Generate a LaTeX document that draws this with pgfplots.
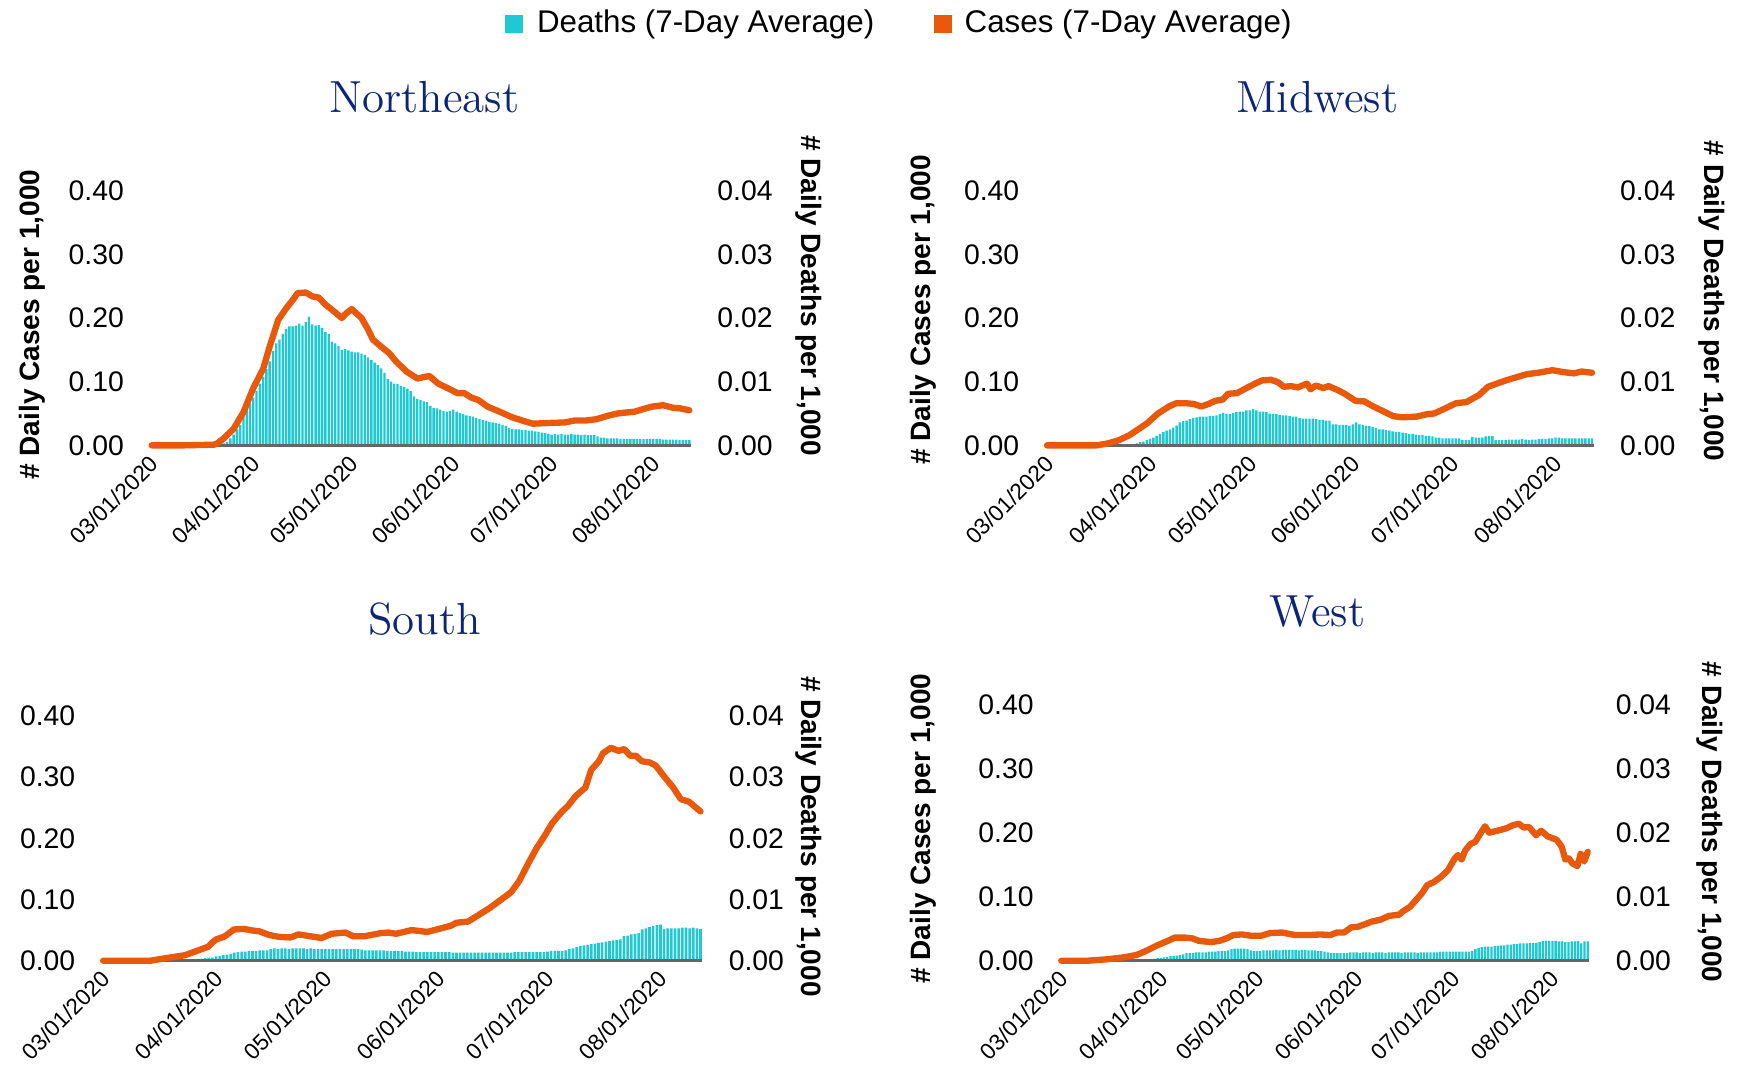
\documentclass[border=0pt]{standalone}
\usepackage{pgfplots}
\pgfplotsset{compat=1.18}
\usepackage{pgfplotstable}
\usepackage{fontspec}
\setsansfont{Liberation Sans}
\definecolor{teal1}{HTML}{1EC9D3}
\definecolor{orng}{HTML}{E8590C}
\definecolor{navy}{HTML}{0C2577}
\definecolor{basegray}{HTML}{666666}

% Daily deaths (7-day average) per 1,000, day 0 = 03/01/2020
\pgfplotstableread[header=false,row sep=\\]{
0\\0\\0\\0\\0\\0\\0\\0\\0\\0\\
0\\0\\0\\0\\0\\0\\0\\0\\0\\0\\
0\\0.0001\\0.0003\\0.0005\\0.0011\\0.0017\\0.0025\\0.0032\\0.0045\\0.0058\\
0.0066\\0.0075\\0.0086\\0.0097\\0.0108\\0.0120\\0.0132\\0.0148\\0.0160\\0.0166\\
0.0175\\0.0183\\0.0187\\0.0187\\0.0188\\0.0191\\0.0188\\0.0194\\0.0202\\0.0190\\
0.0188\\0.0189\\0.0184\\0.0178\\0.0175\\0.0163\\0.0160\\0.0156\\0.0150\\0.0151\\
0.0149\\0.0147\\0.0146\\0.0146\\0.0144\\0.0142\\0.0138\\0.0134\\0.0130\\0.0126\\
0.0121\\0.0114\\0.0104\\0.0100\\0.0097\\0.0096\\0.0093\\0.0092\\0.0089\\0.0085\\
0.0077\\0.0073\\0.0071\\0.0069\\0.0068\\0.0062\\0.0059\\0.0058\\0.0056\\0.0054\\
0.0053\\0.0054\\0.0056\\0.0053\\0.0051\\0.0049\\0.0047\\0.0046\\0.0045\\0.0043\\
0.0041\\0.0040\\0.0039\\0.0037\\0.0036\\0.0035\\0.0034\\0.0032\\0.0030\\0.0027\\
0.0026\\0.0025\\0.0025\\0.0024\\0.0024\\0.0023\\0.0023\\0.0022\\0.0021\\0.0020\\
0.0019\\0.0018\\0.0017\\0.0018\\0.0017\\0.0018\\0.0017\\0.0017\\0.0018\\0.0017\\
0.0017\\0.0016\\0.0017\\0.0016\\0.0016\\0.0016\\0.0014\\0.0012\\0.0012\\0.0011\\
0.0011\\0.0011\\0.0011\\0.0010\\0.0010\\0.0010\\0.0010\\0.0010\\0.0010\\0.0010\\
0.0010\\0.0010\\0.0010\\0.0010\\0.0010\\0.0010\\0.0009\\0.0009\\0.0009\\0.0009\\
0.0009\\0.0008\\0.0008\\0.0008\\0.0008\\
}\neD

\pgfplotstableread[header=false,row sep=\\]{
0\\0\\0\\0\\0\\0\\0\\0\\0\\0\\
0\\0\\0\\0\\0\\0\\0\\0\\0\\0\\
0\\0\\0\\0\\0\\0.0001\\0.0002\\0.0003\\0.0005\\0.0006\\
0.0008\\0.0010\\0.0012\\0.0015\\0.0018\\0.0021\\0.0023\\0.0025\\0.0028\\0.0031\\
0.0036\\0.0038\\0.0039\\0.0041\\0.0043\\0.0044\\0.0045\\0.0045\\0.0045\\0.0046\\
0.0046\\0.0047\\0.0049\\0.0051\\0.0050\\0.0049\\0.0051\\0.0052\\0.0053\\0.0053\\
0.0055\\0.0055\\0.0057\\0.0055\\0.0053\\0.0053\\0.0052\\0.0050\\0.0049\\0.0049\\
0.0048\\0.0047\\0.0047\\0.0046\\0.0045\\0.0045\\0.0043\\0.0042\\0.0042\\0.0042\\
0.0042\\0.0041\\0.0040\\0.0040\\0.0039\\0.0039\\0.0033\\0.0033\\0.0032\\0.0032\\
0.0032\\0.0031\\0.0033\\0.0036\\0.0033\\0.0032\\0.0031\\0.0030\\0.0029\\0.0027\\
0.0025\\0.0025\\0.0024\\0.0023\\0.0022\\0.0021\\0.0021\\0.0020\\0.0019\\0.0018\\
0.0018\\0.0017\\0.0016\\0.0016\\0.0015\\0.0015\\0.0014\\0.0012\\0.0012\\0.0011\\
0.0011\\0.0011\\0.0011\\0.0011\\0.0011\\0.0008\\0.0008\\0.0008\\0.0013\\0.0012\\
0.0012\\0.0012\\0.0014\\0.0015\\0.0015\\0.0008\\0.0008\\0.0008\\0.0008\\0.0009\\
0.0009\\0.0009\\0.0009\\0.0010\\0.0009\\0.0008\\0.0009\\0.0009\\0.0010\\0.0010\\
0.0010\\0.0011\\0.0011\\0.0012\\0.0012\\0.0011\\0.0011\\0.0011\\0.0011\\0.0011\\
0.0011\\0.0011\\0.0011\\0.0011\\0.0011\\
}\mwD

\pgfplotstableread[header=false,row sep=\\]{
0\\0\\0\\0\\0\\0\\0\\0\\0\\0\\
0\\0\\0\\0\\0\\0\\0\\0\\0\\0\\
0\\0\\0\\0.0001\\0.0001\\0.0002\\0.0002\\0.0003\\0.0004\\0.0005\\
0.0005\\0.0007\\0.0008\\0.0009\\0.0010\\0.0011\\0.0013\\0.0014\\0.0015\\0.0015\\
0.0016\\0.0016\\0.0016\\0.0017\\0.0017\\0.0017\\0.0019\\0.0020\\0.0019\\0.0020\\
0.0020\\0.0019\\0.0020\\0.0020\\0.0020\\0.0020\\0.0019\\0.0020\\0.0019\\0.0019\\
0.0019\\0.0019\\0.0019\\0.0019\\0.0019\\0.0019\\0.0019\\0.0019\\0.0019\\0.0019\\
0.0019\\0.0018\\0.0017\\0.0017\\0.0017\\0.0017\\0.0017\\0.0017\\0.0016\\0.0016\\
0.0016\\0.0016\\0.0016\\0.0015\\0.0015\\0.0015\\0.0014\\0.0014\\0.0014\\0.0014\\
0.0014\\0.0014\\0.0014\\0.0014\\0.0014\\0.0014\\0.0013\\0.0013\\0.0013\\0.0013\\
0.0013\\0.0013\\0.0013\\0.0013\\0.0013\\0.0013\\0.0013\\0.0013\\0.0013\\0.0013\\
0.0013\\0.0013\\0.0013\\0.0014\\0.0014\\0.0014\\0.0014\\0.0014\\0.0014\\0.0014\\
0.0014\\0.0014\\0.0015\\0.0016\\0.0016\\0.0016\\0.0016\\0.0017\\0.0019\\0.0020\\
0.0022\\0.0024\\0.0025\\0.0026\\0.0027\\0.0028\\0.0029\\0.0030\\0.0031\\0.0032\\
0.0033\\0.0034\\0.0035\\0.0040\\0.0041\\0.0043\\0.0044\\0.0045\\0.0051\\0.0053\\
0.0055\\0.0057\\0.0058\\0.0059\\0.0052\\0.0053\\0.0053\\0.0053\\0.0053\\0.0054\\
0.0054\\0.0053\\0.0054\\0.0053\\0.0052\\
}\soD

\pgfplotstableread[header=false,row sep=\\]{
0\\0\\0\\0\\0\\0\\0\\0\\0\\0\\
0\\0\\0\\0\\0\\0\\0\\0\\0\\0\\
0\\0\\0\\0.0001\\0.0001\\0.0001\\0.0002\\0.0002\\0.0003\\0.0003\\
0.0004\\0.0004\\0.0005\\0.0006\\0.0007\\0.0007\\0.0008\\0.0009\\0.0010\\0.0012\\
0.0012\\0.0012\\0.0013\\0.0013\\0.0013\\0.0013\\0.0014\\0.0014\\0.0014\\0.0015\\
0.0015\\0.0015\\0.0016\\0.0018\\0.0019\\0.0019\\0.0019\\0.0019\\0.0018\\0.0016\\
0.0015\\0.0015\\0.0015\\0.0016\\0.0016\\0.0016\\0.0016\\0.0017\\0.0016\\0.0017\\
0.0017\\0.0017\\0.0017\\0.0017\\0.0016\\0.0017\\0.0017\\0.0016\\0.0016\\0.0016\\
0.0015\\0.0015\\0.0014\\0.0013\\0.0012\\0.0012\\0.0012\\0.0012\\0.0012\\0.0012\\
0.0013\\0.0013\\0.0013\\0.0012\\0.0013\\0.0013\\0.0013\\0.0012\\0.0013\\0.0013\\
0.0013\\0.0012\\0.0013\\0.0013\\0.0013\\0.0013\\0.0012\\0.0013\\0.0013\\0.0013\\
0.0013\\0.0012\\0.0013\\0.0013\\0.0013\\0.0013\\0.0013\\0.0013\\0.0014\\0.0014\\
0.0014\\0.0014\\0.0014\\0.0014\\0.0014\\0.0014\\0.0014\\0.0014\\0.0015\\0.0018\\
0.0020\\0.0021\\0.0022\\0.0022\\0.0022\\0.0023\\0.0023\\0.0024\\0.0024\\0.0025\\
0.0025\\0.0026\\0.0026\\0.0027\\0.0027\\0.0027\\0.0028\\0.0028\\0.0028\\0.0029\\
0.0031\\0.0031\\0.0031\\0.0031\\0.0031\\0.0030\\0.0030\\0.0029\\0.0029\\0.0030\\
0.0030\\0.0031\\0.0027\\0.0030\\0.0030\\
}\weD

\pgfplotsset{
  common/.style={
    scale only axis, anchor=south west, xmin=-0.5, xmax=164.5,
    axis line style={draw=none}, tick style={draw=none}, clip=false,
    scaled y ticks=false,
    yticklabel style={font=\fontsize{8.5}{10}\selectfont\sffamily,
      /pgf/number format/fixed, /pgf/number format/fixed zerofill,
      /pgf/number format/precision=2, /pgf/number format/assume math mode=true},
  },
  deathax/.style={common, ymin=0, ymax=0.04,
    axis y line*=right, axis x line*=bottom, xtick=\empty,
    ytick={0,0.01,0.02,0.03,0.04},
    yticklabel style={xshift=4.4pt}},
  casesax/.style={common, ymin=0, ymax=0.40,
    axis y line*=left, axis x line*=bottom,
    ytick={0,0.1,0.2,0.3,0.4},
    yticklabel style={xshift=-4.3pt},
    xtick={0,31,61,92,122,153},
    xticklabels={03/01/2020,04/01/2020,05/01/2020,06/01/2020,07/01/2020,08/01/2020},
    xticklabel style={font=\fontsize{6.8}{8}\selectfont\sffamily, rotate=45, anchor=east, xshift=1pt, yshift=-3.6pt}},
  bars/.style={ybar, bar width=0.72, bar shift=0pt, fill=teal1, draw=none},
  caseline/.style={orng, line width=1.9pt, line join=round, line cap=round},
}
\newcommand{\baseline}{\draw[basegray, line width=1pt] (axis cs:-0.5,0) -- (axis cs:164.5,0);}

\begin{document}
\begin{tikzpicture}
\useasboundingbox (0,0) rectangle (521.1pt,319.2pt);

% Legend
\fill[teal1] (151.5pt,309.2pt) rectangle (156.9pt,314.6pt);
\node[anchor=west, inner sep=0pt, font=\fontsize{9.4}{11}\selectfont\sffamily] at (160.9pt,311.9pt) {Deaths (7-Day Average)};
\fill[orng] (280.2pt,309.2pt) rectangle (285.6pt,314.6pt);
\node[anchor=west, inner sep=0pt, font=\fontsize{9.4}{11}\selectfont\sffamily] at (289.2pt,311.9pt) {Cases (7-Day Average)};

% ---------- Northeast ----------
\begin{axis}[deathax, at={(45.0pt,185.6pt)}, width=162.3pt, height=76.4pt]
\addplot[bars] table[x expr=\coordindex, y index=0]{\neD};
\end{axis}
\begin{axis}[casesax, at={(45.0pt,185.6pt)}, width=162.3pt, height=76.4pt]
\baseline
\addplot[caseline] coordinates {(0,0)(10,0)(19,0.001)(20,0.003)(22,0.011)(25,0.026)(28,0.052)(31,0.09)(34,0.12)(36,0.155)(38.6,0.197)(41,0.215)(43,0.228)(44.5,0.239)(47,0.24)(49,0.234)(51,0.232)(53,0.221)(55,0.213)(58,0.2)(59.5,0.208)(61,0.214)(64,0.2)(66,0.182)(67.5,0.166)(70,0.155)(72.4,0.145)(74.5,0.132)(77.7,0.116)(81,0.105)(84.7,0.109)(87.4,0.097)(90.6,0.089)(93.3,0.082)(95.4,0.082)(97.5,0.075)(99.7,0.071)(102.4,0.061)(105.6,0.054)(110,0.044)(113,0.039)(116.3,0.034)(120.6,0.035)(126,0.036)(129,0.039)(132.4,0.039)(135.6,0.041)(138.8,0.046)(142,0.05)(147.4,0.053)(150.6,0.058)(152.8,0.061)(156,0.063)(159,0.059)(161.3,0.058)(164,0.055)};
\end{axis}

% ---------- Midwest ----------
\begin{axis}[deathax, at={(313.6pt,185.6pt)}, width=164.5pt, height=76.4pt]
\addplot[bars] table[x expr=\coordindex, y index=0]{\mwD};
\end{axis}
\begin{axis}[casesax, at={(313.6pt,185.6pt)}, width=164.5pt, height=76.4pt]
\baseline
\addplot[caseline] coordinates {(0,0)(15,0)(18.3,0.003)(21.6,0.008)(24.8,0.016)(28,0.027)(30.2,0.035)(33.4,0.05)(36.7,0.061)(38.8,0.066)(42.1,0.066)(44.2,0.065)(46.4,0.061)(48.6,0.065)(50.7,0.07)(52.9,0.072)(54.5,0.081)(57.2,0.082)(59.3,0.088)(62.6,0.097)(64.7,0.102)(67.4,0.103)(69.6,0.099)(71.2,0.092)(73.4,0.093)(75.5,0.091)(78.2,0.097)(79.3,0.088)(80.9,0.094)(83.1,0.09)(84.7,0.093)(87.4,0.087)(89.6,0.081)(92.8,0.07)(95.5,0.069)(98.2,0.061)(101.4,0.053)(104.1,0.046)(106.8,0.044)(111.1,0.045)(114.4,0.049)(116.5,0.05)(119.8,0.058)(123,0.066)(126.2,0.068)(130,0.079)(132.7,0.092)(135.9,0.098)(138.1,0.102)(141.3,0.107)(144.6,0.112)(147.8,0.114)(152.1,0.118)(155.4,0.115)(158.6,0.113)(160.8,0.116)(164,0.114)};
\end{axis}

% ---------- South ----------
\begin{axis}[deathax, at={(30.4pt,31.0pt)}, width=180.3pt, height=73.4pt]
\addplot[bars] table[x expr=\coordindex, y index=0]{\soD};
\end{axis}
\begin{axis}[casesax, at={(30.4pt,31.0pt)}, width=180.3pt, height=73.4pt]
\baseline
\addplot[caseline] coordinates {(0,0)(13,0)(16,0.003)(19.3,0.006)(22.5,0.009)(25.7,0.016)(28.9,0.023)(30,0.03)(31.1,0.035)(33.2,0.039)(35.9,0.051)(38.6,0.052)(41.3,0.049)(42.9,0.048)(45.6,0.042)(48.2,0.039)(51.5,0.038)(53.6,0.043)(56.8,0.04)(60,0.037)(62.7,0.044)(66.5,0.046)(68.6,0.04)(71.8,0.04)(76.1,0.045)(78.3,0.046)(80.4,0.044)(84.7,0.05)(89,0.047)(92.2,0.052)(95.4,0.057)(97,0.062)(100.2,0.064)(102.9,0.074)(106.1,0.086)(109.3,0.1)(112,0.112)(114.2,0.13)(116.8,0.16)(119,0.184)(121.1,0.203)(123.3,0.225)(126,0.244)(127.6,0.253)(129.7,0.269)(132.4,0.283)(134,0.312)(136.1,0.326)(137.2,0.339)(139.4,0.348)(141.5,0.343)(143.1,0.346)(144.7,0.335)(146.3,0.335)(147.9,0.326)(150.1,0.324)(151.7,0.319)(154.3,0.299)(156.5,0.283)(158.6,0.264)(160.8,0.26)(164,0.244)};
\end{axis}

% ---------- West ----------
\begin{axis}[deathax, at={(317.9pt,31.0pt)}, width=158.9pt, height=76.8pt]
\addplot[bars] table[x expr=\coordindex, y index=0]{\weD};
\end{axis}
\begin{axis}[casesax, at={(317.9pt,31.0pt)}, width=158.9pt, height=76.8pt]
\baseline
\addplot[caseline] coordinates {(0,0)(8.4,0)(13.8,0.002)(19.2,0.005)(23.5,0.009)(26.7,0.016)(29.9,0.024)(33.2,0.031)(35.3,0.036)(38.6,0.036)(40.7,0.035)(42.9,0.031)(46.6,0.029)(49.3,0.031)(51.5,0.035)(53.6,0.04)(56.3,0.041)(59,0.039)(62.3,0.039)(64.9,0.043)(68.7,0.044)(73,0.04)(77.3,0.04)(80.6,0.041)(83.8,0.04)(85.9,0.044)(88.1,0.044)(90.3,0.052)(92.4,0.053)(94.6,0.057)(96.7,0.061)(99.4,0.064)(102.1,0.07)(105.3,0.072)(106.4,0.077)(108.6,0.084)(110.7,0.096)(112.3,0.105)(114,0.118)(116.1,0.123)(118.3,0.131)(120.4,0.141)(122.6,0.16)(123.6,0.165)(124.7,0.158)(125.8,0.172)(127.4,0.182)(129,0.186)(130.6,0.199)(132,0.21)(133.3,0.2)(136.6,0.204)(138.7,0.207)(140.9,0.212)(142.5,0.214)(144.1,0.208)(145.7,0.209)(147.9,0.196)(149.5,0.203)(151.6,0.194)(154.3,0.189)(155.9,0.178)(157,0.158)(158.1,0.16)(159.2,0.152)(160.8,0.148)(161.8,0.167)(162.9,0.155)(164,0.17)};
\end{axis}

% Titles
\node[font=\fontsize{13.5}{16}\selectfont\rmfamily, text=navy] at (127.3pt,290pt) {Northeast};
\node[font=\fontsize{13.5}{16}\selectfont\rmfamily, text=navy] at (395.2pt,290pt) {Midwest};
\node[font=\fontsize{13.5}{16}\selectfont\rmfamily, text=navy] at (127.3pt,133.4pt) {South};
\node[font=\fontsize{13.5}{16}\selectfont\rmfamily, text=navy] at (395.2pt,135.7pt) {West};

% Axis titles
\node[rotate=90, font=\fontsize{8.4}{10}\selectfont\sffamily\bfseries] at (9.8pt,221.8pt) {\# Daily Cases per 1,000};
\node[rotate=90, font=\fontsize{8.4}{10}\selectfont\sffamily\bfseries] at (276.9pt,226.2pt) {\# Daily Cases per 1,000};
\node[rotate=90, font=\fontsize{8.4}{10}\selectfont\sffamily\bfseries] at (276.9pt,70.6pt) {\# Daily Cases per 1,000};
\node[rotate=-90, font=\fontsize{8.4}{10}\selectfont\sffamily\bfseries] at (242.7pt,230.5pt) {\# Daily Deaths per 1,000};
\node[rotate=-90, font=\fontsize{8.4}{10}\selectfont\sffamily\bfseries] at (513.5pt,228.9pt) {\# Daily Deaths per 1,000};
\node[rotate=-90, font=\fontsize{8.4}{10}\selectfont\sffamily\bfseries] at (242.7pt,68.3pt) {\# Daily Deaths per 1,000};
\node[rotate=-90, font=\fontsize{8.4}{10}\selectfont\sffamily\bfseries] at (512.9pt,72.6pt) {\# Daily Deaths per 1,000};
\end{tikzpicture}
\end{document}
